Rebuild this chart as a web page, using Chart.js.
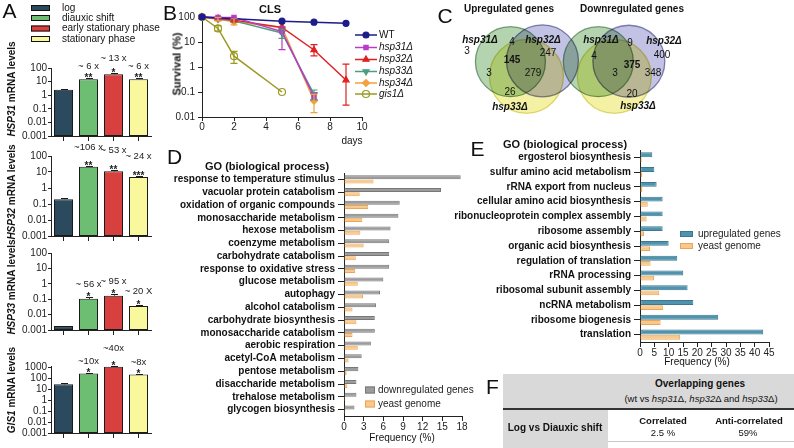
<!DOCTYPE html>
<html><head><meta charset="utf-8">
<script src="https://cdn.jsdelivr.net/npm/chart.js@4.4.0/dist/chart.umd.min.js"></script>
<style>
html,body{margin:0;padding:0;background:#fff;}
body{width:794px;height:448px;overflow:hidden;position:relative;font-family:"Liberation Sans",Arial,Helvetica,sans-serif;color:#111;}
canvas{position:absolute;}
.t{position:absolute;white-space:nowrap;transform:translate(-50%,-50%);line-height:1;}
.v{position:absolute;white-space:nowrap;transform:translate(-50%,-50%) rotate(-90deg);line-height:1;}
.box{position:absolute;}
</style></head><body>
<script>
// ================= DATA =================
const growthStages = ['log', 'diauxic shift', 'early stationary phase', 'stationary phase'];
const logTicks5 = [0.001, 0.01, 0.1, 1, 10, 100];
const logTicks6 = [0.001, 0.01, 0.1, 1, 10, 100, 1000];

const hsp31Level = [2.5, 15, 35, 15];
const hsp31Upper = [2.9, 17, 43, 17.5];
const hsp31Fold  = ['', '~ 6 x', '~ 13 x', '~ 6 x'];
const hsp31Sig   = ['', '**', '*', '**'];

const hsp32Level = [0.2, 21, 11, 4.8];
const hsp32Upper = [0.24, 24, 13, 5.4];
const hsp32Fold  = ['', '~106 x', '~ 53 x', '~ 24 x'];
const hsp32Sig   = ['', '**', '**', '***'];

const hsp33Level = [0.0018, 0.105, 0.17, 0.036];
const hsp33Upper = [0.0019, 0.14, 0.23, 0.04];
const hsp33Fold  = ['', '~ 56 x', '~ 95 x', '~ 20 X'];
const hsp33Sig   = ['', '*', '*', '*'];

const gis1Level = [28, 270, 1100, 220];
const gis1Upper = [33, 300, 1400, 245];
const gis1Fold  = ['', '~10x', '~40x', '~8x'];
const gis1Sig   = ['', '*', '*', '*'];

const clsTicksY = [0.01, 0.1, 1, 10, 100];
const wtDays = [0, 5, 7, 9];
const wtSurv = [100, 68, 62, 56];
const hsp31Days = [0, 1, 2, 5, 7];
const hsp31Surv = [100, 95, 95, 26, 0.065];
const hsp31Lo = [null, null, null, 5, 0.05];
const hsp31Hi = [null, null, null, 40, 0.09];
const hsp32Days = [0, 1, 2, 5, 7, 9];
const hsp32Surv = [100, 88, 75, 38, 4.8, 0.3];
const hsp32Lo = [null, null, null, null, 2.8, 0.03];
const hsp32Hi = [null, null, null, null, 7.8, 1.3];
const hsp33Days = [0, 1, 2, 5, 7];
const hsp33Surv = [100, 85, 70, 23, 0.08];
const hsp33Lo = [null, null, null, 14, 0.05];
const hsp33Hi = [null, null, null, 33, 0.12];
const hsp34Days = [0, 1, 2, 5, 7];
const hsp34Surv = [100, 82, 65, 38, 0.045];
const hsp34Lo = [null, 70, 48, null, 0.015];
const hsp34Hi = [null, 95, 85, null, 0.08];
const gis1Days = [0, 1, 2, 5];
const gis1Surv = [100, 35, 2.7, 0.1];
const gis1Lo = [null, 27, 1.4, null];
const gis1Hi = [null, 45, 4.2, null];

const vennRegions = ['hsp31Δ only', 'hsp32Δ only', 'hsp33Δ only', 'hsp31Δ∩hsp32Δ', 'hsp31Δ∩hsp33Δ', 'hsp32Δ∩hsp33Δ', 'all three'];
const upregulatedCounts   = [3, 247, 26, 4, 3, 279, 145];
const downregulatedCounts = [4, 400, 20, 9, 3, 348, 375];

const goDownTerms = ['response to temperature stimulus', 'vacuolar protein catabolism', 'oxidation of organic compounds', 'monosaccharide metabolism', 'hexose metabolism', 'coenzyme metabolism', 'carbohydrate catabolism', 'response to oxidative stress', 'glucose metabolism', 'autophagy', 'alcohol catabolism', 'carbohydrate biosynthesis', 'monosaccharide catabolism', 'aerobic respiration', 'acetyl-CoA metabolism', 'pentose metabolism', 'disaccharide metabolism', 'trehalose metabolism', 'glycogen biosynthesis'];
const goDownFreq   = [17.8, 14.8, 8.5, 8.3, 7.1, 6.9, 6.9, 6.9, 6.0, 5.5, 4.9, 4.7, 4.7, 4.1, 2.7, 2.2, 1.9, 1.9, 1.6];
const goDownGenome = [4.5, 2.4, 3.7, 2.8, 2.5, 3.0, 1.8, 1.7, 2.1, 2.9, 1.3, 1.9, 1.3, 2.1, 0.7, 0.4, 0.5, 0.2, 0.2];

const goUpTerms = ['ergosterol biosynthesis', 'sulfur amino acid metabolism', 'rRNA export from nucleus', 'cellular amino acid biosynthesis', 'ribonucleoprotein complex assembly', 'ribosome assembly', 'organic acid biosynthesis', 'regulation of translation', 'rRNA processing', 'ribosomal subunit assembly', 'ncRNA metabolism', 'ribosome biogenesis', 'translation'];
const goUpFreq   = [4.3, 5.0, 5.8, 7.9, 7.9, 7.9, 10.0, 13.0, 15.1, 16.6, 18.6, 27.3, 43.0];
const goUpGenome = [0.6, 0.8, 0.8, 2.7, 2.3, 1.4, 3.5, 3.7, 4.9, 6.7, 8.1, 7.2, 14.0];

const overlapRow = 'Log vs Diauxic shift';
const overlapCorrelated = '2.5 %';
const overlapAnticorrelated = '59%';

// ================= HELPERS =================
const FONT = '"Liberation Sans", Arial, Helvetica, sans-serif';
Chart.defaults.font.family = FONT;
Chart.defaults.color = '#222';

function canvasAt(l, t, w, h) {
  const c = document.createElement('canvas');
  c.width = w; c.height = h;
  c.style.left = l + 'px'; c.style.top = t + 'px';
  c.style.width = w + 'px'; c.style.height = h + 'px';
  document.body.appendChild(c);
  return c;
}
function txt(x, y, html, css, cls) {
  const d = document.createElement('div');
  d.className = cls || 't';
  d.style.cssText = 'left:' + x + 'px;top:' + y + 'px;' + (css || '');
  d.innerHTML = html;
  document.body.appendChild(d);
  return d;
}
function rectDiv(l, t, w, h, color) {
  const d = document.createElement('div');
  d.className = 'box';
  d.style.cssText = `left:${l}px;top:${t}px;width:${w}px;height:${h}px;background:${color};`;
  document.body.appendChild(d);
}
const baseOpts = () => ({
  responsive: false, animation: false, devicePixelRatio: 1,
  plugins: { legend: { display: false }, tooltip: { enabled: false } }
});

// ================= PANEL A =================
const stageFill = ['#2c4a5e', '#6dbd73', '#d8403f', '#f9f89c'];

const barAnnot = {
  id: 'barAnnot',
  afterDatasetsDraw(chart, args, o) {
    const ctx = chart.ctx, meta = chart.getDatasetMeta(0), ys = chart.scales.y;
    ctx.save();
    ctx.strokeStyle = '#1a1a1a'; ctx.lineWidth = 1;
    meta.data.forEach((bar, i) => {
      const yt = Math.round(ys.getPixelForValue(o.upper[i])) + 0.5;
      const x = Math.round(bar.x) + 0.5;
      ctx.beginPath();
      ctx.moveTo(x, bar.y); ctx.lineTo(x, yt);
      ctx.moveTo(x - 3.5, yt); ctx.lineTo(x + 3.5, yt);
      ctx.stroke();
      ctx.fillStyle = '#222'; ctx.textAlign = 'center';
      if (o.sig[i]) { ctx.font = 'bold 10px ' + FONT; ctx.textBaseline = 'alphabetic'; ctx.fillText(o.sig[i], bar.x, yt + 2); }
      if (o.fold[i]) {
        const fy = Math.min(o.foldY[i] - o.top, yt - 12);
        ctx.font = '9.5px ' + FONT; ctx.textBaseline = 'middle'; ctx.fillText(o.fold[i], bar.x, fy);
      }
    });
    if (o.legend) {
      const L = o.legend;
      chart.data.datasets[0].backgroundColor.forEach((col, i) => {
        const y = L.rows[i] - o.top;
        ctx.fillStyle = col; ctx.fillRect(L.x, y - 3, 19, 6);
        ctx.strokeStyle = '#111'; ctx.strokeRect(L.x + 0.5, y - 2.5, 18, 5);
        ctx.fillStyle = '#111'; ctx.font = '10px ' + FONT; ctx.textAlign = 'left'; ctx.textBaseline = 'middle';
        ctx.fillText(chart.data.labels[i], L.tx, y);
      });
    }
    ctx.restore();
  }
};

function mrnaChart(c) {
  const cv = canvasAt(0, c.top, 160, c.height);
  new Chart(cv, {
    type: 'bar',
    data: { labels: growthStages, datasets: [{ data: c.level, backgroundColor: stageFill, borderColor: '#1a1a1a', borderWidth: 1, borderSkipped: false, barPercentage: 0.76, categoryPercentage: 1 }] },
    options: Object.assign(baseOpts(), {
      layout: { padding: { top: c.padTop, right: 9, left: 0, bottom: 0 } },
      plugins: { legend: { display: false }, tooltip: { enabled: false },
        barAnnot: { upper: c.upper, sig: c.sig, fold: c.fold, foldY: c.foldY, top: c.top, legend: c.legend } },
      scales: {
        x: { grid: { drawOnChartArea: false, offset: false, tickLength: 5, color: '#222' }, border: { color: '#222' }, ticks: { display: false }, afterFit: s => { s.height = 9; } },
        y: { type: 'logarithmic', min: c.min, max: c.max,
          afterBuildTicks: s => { s.ticks = c.ticks.map(v => ({ value: v })); },
          ticks: { callback: v => String(v), font: { size: 10 }, color: '#222', padding: 1, autoSkip: false },
          grid: { drawOnChartArea: false, tickLength: 3, color: '#222' }, border: { color: '#222' },
          afterFit: s => { s.width = 51; } }
      }
    }),
    plugins: [barAnnot]
  });
}
mrnaChart({ top: 0, height: 145, padTop: 68, min: 0.001, max: 100, ticks: logTicks5, level: hsp31Level, upper: hsp31Upper, sig: hsp31Sig, fold: hsp31Fold, foldY: [0, 67, 58, 66],
  legend: { x: 31, tx: 62, rows: [8, 18, 28.5, 39] } });
mrnaChart({ top: 140, height: 105, padTop: 16, min: 0.001, max: 100, ticks: logTicks5, level: hsp32Level, upper: hsp32Upper, sig: hsp32Sig, fold: hsp32Fold, foldY: [0, 147, 150, 156] });
mrnaChart({ top: 240, height: 99, padTop: 13, min: 0.001, max: 100, ticks: logTicks5, level: hsp33Level, upper: hsp33Upper, sig: hsp33Sig, fold: hsp33Fold, foldY: [0, 284, 281, 291] });
mrnaChart({ top: 338, height: 104, padTop: 28, min: 0.001, max: 1300, ticks: logTicks6, level: gis1Level, upper: gis1Upper, sig: gis1Sig, fold: gis1Fold, foldY: [0, 363, 348, 366] });

// ================= PANEL B =================
const strainStyle = [
  { label: 'WT', days: wtDays, surv: wtSurv, lo: null, hi: null, color: '#1c1c8a', fill: '#1c1c8a', pt: 'circle', rot: 0, r: 3 },
  { label: 'hsp31Δ', days: hsp31Days, surv: hsp31Surv, lo: hsp31Lo, hi: hsp31Hi, color: '#b83cc8', fill: '#b83cc8', pt: 'rect', rot: 0, r: 3 },
  { label: 'hsp32Δ', days: hsp32Days, surv: hsp32Surv, lo: hsp32Lo, hi: hsp32Hi, color: '#e02020', fill: '#e02020', pt: 'triangle', rot: 0, r: 3.5 },
  { label: 'hsp33Δ', days: hsp33Days, surv: hsp33Surv, lo: hsp33Lo, hi: hsp33Hi, color: '#4c9e80', fill: '#4c9e80', pt: 'triangle', rot: 180, r: 3.5 },
  { label: 'hsp34Δ', days: hsp34Days, surv: hsp34Surv, lo: hsp34Lo, hi: hsp34Hi, color: '#f2a23e', fill: '#f2a23e', pt: 'rectRot', rot: 0, r: 3.5 },
  { label: 'gis1Δ', days: gis1Days, surv: gis1Surv, lo: gis1Lo, hi: gis1Hi, color: '#9a9a22', fill: 'rgba(255,255,255,0)', pt: 'circle', rot: 0, r: 3.5 }
];
const clsExtras = {
  id: 'clsExtras',
  afterDatasetsDraw(chart, args, o) {
    const ctx = chart.ctx, xs = chart.scales.x, ys = chart.scales.y;
    ctx.save(); ctx.lineWidth = 1.2;
    chart.data.datasets.forEach((ds, di) => {
      const s = strainStyle[di];
      if (!s.lo) return;
      ctx.strokeStyle = s.color;
      s.days.forEach((d, i) => {
        if (s.lo[i] == null) return;
        const x = xs.getPixelForValue(d), y1 = ys.getPixelForValue(s.lo[i]), y2 = ys.getPixelForValue(s.hi[i]);
        ctx.beginPath();
        ctx.moveTo(x, y1); ctx.lineTo(x, y2);
        ctx.moveTo(x - 3.5, y1); ctx.lineTo(x + 3.5, y1);
        ctx.moveTo(x - 3.5, y2); ctx.lineTo(x + 3.5, y2);
        ctx.stroke();
      });
    });
    ctx.restore();
  },
  afterDraw(chart, args, o) {
    const ctx = chart.ctx;
    ctx.save();
    chart.data.datasets.forEach((ds, i) => {
      const y = o.rows[i];
      ctx.strokeStyle = ds.borderColor; ctx.lineWidth = 1.5;
      ctx.beginPath(); ctx.moveTo(o.x0, y); ctx.lineTo(o.x1, y); ctx.stroke();
      ctx.fillStyle = ds.pointBackgroundColor; ctx.strokeStyle = ds.borderColor; ctx.lineWidth = 1.2;
      if (Chart.helpers && Chart.helpers.drawPoint) {
        Chart.helpers.drawPoint(ctx, { pointStyle: ds.pointStyle, radius: ds.pointRadius, rotation: ds.pointRotation, borderWidth: 1.2 }, (o.x0 + o.x1) / 2, y);
      }
      ctx.fillStyle = '#111'; ctx.font = (i === 0 ? '' : 'italic ') + '10px ' + FONT; ctx.textAlign = 'left'; ctx.textBaseline = 'middle';
      ctx.fillText(ds.label, o.tx, y);
    });
    ctx.restore();
  }
};
const clsCanvas = canvasAt(140, 0, 300, 150);
new Chart(clsCanvas, {
  type: 'line',
  data: { datasets: strainStyle.map(s => ({
    label: s.label, data: s.days.map((d, i) => ({ x: d, y: s.surv[i] })),
    borderColor: s.color, backgroundColor: s.fill, pointBackgroundColor: s.fill, pointBorderColor: s.color,
    pointStyle: s.pt, pointRotation: s.rot, pointRadius: s.r, pointBorderWidth: 1.2, borderWidth: 1.5, fill: false, tension: 0, clip: false
  })) },
  options: Object.assign(baseOpts(), {
    layout: { padding: { top: 17, right: 78, left: 0, bottom: 0 } },
    plugins: { legend: { display: false }, tooltip: { enabled: false },
      clsExtras: { x0: 215, x1: 237, tx: 239, rows: [35, 47.5, 59.5, 71.5, 83, 94] } },
    scales: {
      x: { type: 'linear', min: 0, max: 10, ticks: { stepSize: 2, font: { size: 10 }, color: '#222', padding: 0, maxRotation: 0 },
        grid: { drawOnChartArea: false, tickLength: 4, color: '#222' }, border: { color: '#222' }, afterFit: s => { s.height = 33; } },
      y: { type: 'logarithmic', min: 0.01, max: 100,
        afterBuildTicks: s => { s.ticks = clsTicksY.map(v => ({ value: v })); },
        ticks: { callback: v => String(v), font: { size: 10 }, color: '#222', padding: 3, autoSkip: false },
        grid: { drawOnChartArea: false, tickLength: 4, color: '#222' }, border: { color: '#222' }, afterFit: s => { s.width = 62; } }
    }
  }),
  plugins: [clsExtras]
});

// ================= PANEL C (Venn) =================
const vennCircles = {
  up:   [[488, 54, 35], [532, 52, 36], [510, 88, 37]],
  down: [[609, 54, 35], [651, 53, 36], [631, 88, 37]]
};
const vennColors = [
  { fill: '#b4d4b0', line: '#7ea683' },
  { fill: '#c2c2e4', line: '#8a8ab6' },
  { fill: '#f4f1a4', line: '#e2dc80' }
];
const multiplyBlend = {
  id: 'multiplyBlend',
  beforeDatasetsDraw(c) { c.ctx.save(); c.ctx.globalCompositeOperation = 'multiply'; },
  afterDatasetsDraw(c) { c.ctx.restore(); }
};
const vennCanvas = canvasAt(430, 0, 280, 135);
new Chart(vennCanvas, {
  type: 'bubble',
  data: { datasets: [2, 1, 0].map(k => ({
    data: [vennCircles.up[k], vennCircles.down[k]].map(p => ({ x: p[0], y: p[1], r: p[2] })),
    backgroundColor: vennColors[k].fill, borderColor: vennColors[k].line, borderWidth: 1.3, clip: false
  })) },
  options: Object.assign(baseOpts(), {
    layout: { padding: 0 },
    scales: { x: { type: 'linear', min: 430, max: 710, display: false }, y: { type: 'linear', min: 0, max: 135, reverse: true, display: false } }
  }),
  plugins: [multiplyBlend]
});
const vennLabelPos = {
  up:   [[467, 51], [548, 53], [510, 92], [512, 42], [489, 73], [533, 73], [512, 60]],
  down: [[594, 56], [662, 55], [632, 94], [630, 43], [615, 73], [653, 73], [632, 65]]
};
[['up', upregulatedCounts, 'Upregulated genes', 509, [[480, 40], [543, 40], [510, 107]]],
 ['down', downregulatedCounts, 'Downregulated genes', 632, [[601, 40], [664, 41], [638, 106]]]].forEach(([k, counts, title, tx, names]) => {
  txt(tx, 9, title, 'font-size:10px;font-weight:bold;');
  counts.forEach((n, i) => {
    const p = vennLabelPos[k][i];
    txt(p[0], p[1], String(n), 'font-size:10px;' + (i === 6 ? 'font-weight:bold;' : ''));
  });
  ['hsp31Δ', 'hsp32Δ', 'hsp33Δ'].forEach((nm, i) => txt(names[i][0], names[i][1], nm, 'font-size:10px;font-weight:bold;font-style:italic;'));
});

// ================= PANEL D / E =================
const boxLegend = {
  id: 'boxLegend',
  afterDraw(chart, args, o) {
    const ctx = chart.ctx;
    ctx.save();
    chart.data.datasets.forEach((ds, i) => {
      const y = o.y0 + i * o.dy;
      ctx.fillStyle = ds.backgroundColor; ctx.fillRect(o.x, y - o.h / 2, o.w, o.h);
      ctx.strokeStyle = ds.borderColor; ctx.lineWidth = 1; ctx.strokeRect(o.x + 0.5, y - o.h / 2 + 0.5, o.w - 1, o.h - 1);
      ctx.fillStyle = '#222'; ctx.font = '10px ' + FONT; ctx.textAlign = 'left'; ctx.textBaseline = 'middle';
      ctx.fillText(ds.label, o.x + o.w + o.gap, y);
    });
    ctx.restore();
  }
};
function goChart(c) {
  const cv = canvasAt(c.left, c.top, c.width, c.height);
  new Chart(cv, {
    type: 'bar',
    data: { labels: c.terms, datasets: [
      { label: c.setLabel, data: c.freq, backgroundColor: c.mainFill, borderColor: c.mainLine, borderWidth: 1, borderSkipped: false, barPercentage: 0.95, categoryPercentage: c.catPct },
      { label: 'yeast genome', data: c.genome, backgroundColor: '#f8c98d', borderColor: '#eda658', borderWidth: 1, borderSkipped: false, barPercentage: 0.95, categoryPercentage: c.catPct }
    ] },
    options: Object.assign(baseOpts(), {
      indexAxis: 'y',
      layout: { padding: { top: c.padTop, right: c.padRight, left: 0, bottom: 0 } },
      plugins: { legend: { display: false }, tooltip: { enabled: false }, boxLegend: c.legend },
      scales: {
        x: { min: 0, max: c.xmax, ticks: { stepSize: c.step, font: { size: 10 }, color: '#222', padding: 0, autoSkip: false, maxRotation: 0, minRotation: 0 },
          grid: { drawOnChartArea: false, tickLength: 5, color: '#222' }, border: { color: '#222' }, afterFit: s => { s.height = c.xh; } },
        y: { ticks: { font: { size: 10, weight: 'bold' }, color: '#111', padding: 3, autoSkip: false },
          grid: { drawOnChartArea: false, offset: false, tickLength: 6, color: '#222' }, border: { color: '#222' }, afterFit: s => { s.width = c.yw; } }
      }
    }),
    plugins: [boxLegend]
  });
}
goChart({ left: 135, top: 160, width: 340, height: 288, padTop: 13, padRight: 13, yw: 209, xh: 32, xmax: 18, step: 3, catPct: 0.66,
  terms: goDownTerms, freq: goDownFreq, genome: goDownGenome, setLabel: 'downregulated genes', mainFill: '#9c9c9c', mainLine: '#787878',
  legend: { x: 365 - 135, y0: 390 - 160, dy: 14, w: 10, h: 7, gap: 3 } });
goChart({ left: 440, top: 140, width: 354, height: 240, padTop: 10, padRight: 25, yw: 200, xh: 38, xmax: 45, step: 5, catPct: 0.7,
  terms: goUpTerms, freq: goUpFreq, genome: goUpGenome, setLabel: 'upregulated genes', mainFill: '#4f93ad', mainLine: '#3a7890',
  legend: { x: 680 - 440, y0: 234 - 140, dy: 12, w: 13, h: 6, gap: 5 } });

// ================= PANEL F (table) =================
rectDiv(503, 374, 291, 34, '#d9d9d9');
rectDiv(503, 408, 291, 1.5, '#333');
rectDiv(503, 410, 105, 38, '#d9d9d9');
rectDiv(608, 441, 186, 1, '#c8c8c8');
txt(700, 384, 'Overlapping genes', 'font-size:10px;font-weight:bold;');
txt(701, 399, '(wt vs <i>hsp31</i>Δ, <i>hsp32</i>Δ and <i>hsp33</i>Δ)', 'font-size:9.5px;');
txt(555, 428, overlapRow, 'font-size:10px;font-weight:bold;');
txt(663, 421, 'Correlated', 'font-size:9.5px;font-weight:bold;');
txt(663, 433, overlapCorrelated, 'font-size:9.5px;');
txt(749, 421, 'Anti-correlated', 'font-size:9.5px;font-weight:bold;');
txt(748, 433, overlapAnticorrelated, 'font-size:9.5px;');

// ================= TEXT (letters, titles) =================
const letterCss = 'font-size:21px;';
txt(9.5, 10, 'A', letterCss);
txt(170, 12, 'B', letterCss);
txt(445, 15, 'C', letterCss);
txt(174.5, 156, 'D', letterCss);
txt(477.5, 148, 'E', letterCss);
txt(492.5, 386, 'F', letterCss);

txt(12, 89, '<i>HSP31</i> mRNA levels', 'font-size:10px;font-weight:bold;', 'v');
txt(12, 192, '<i>HSP32</i> mRNA levels', 'font-size:10px;font-weight:bold;', 'v');
txt(12, 287, '<i>HSP33</i> mRNA levels', 'font-size:10px;font-weight:bold;', 'v');
txt(12, 390, '<i>GIS1</i> mRNA levels', 'font-size:10px;font-weight:bold;', 'v');

txt(270, 9, 'CLS', 'font-size:11px;font-weight:bold;');
txt(177, 64, 'Survival (%)', 'font-size:11px;font-weight:bold;', 'v');
txt(352, 141, 'days', 'font-size:10px;');

txt(267, 166, 'GO (biological process)', 'font-size:11px;font-weight:bold;');
txt(402, 438, 'Frequency (%)', 'font-size:10px;');
txt(565, 144, 'GO (biological process)', 'font-size:11px;font-weight:bold;');
txt(697, 362, 'Frequency (%)', 'font-size:10px;');
</script>
</body></html>
